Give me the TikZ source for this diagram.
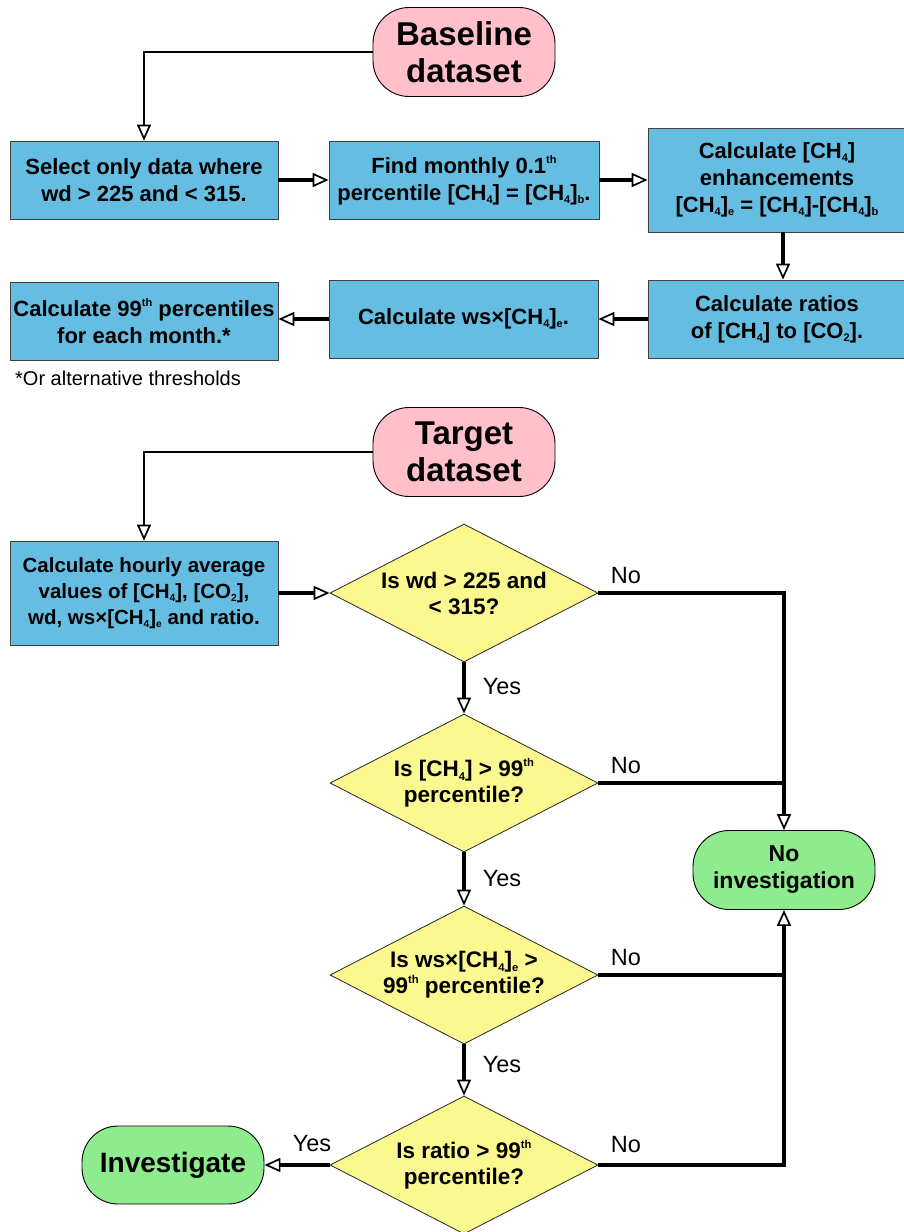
\documentclass[tikz,border=0pt]{standalone}
\usepackage{fontspec}
\setmainfont{Liberation Sans}
\usetikzlibrary{arrows.meta,shapes.geometric}
\definecolor{boxblue}{HTML}{66BDE2}
\definecolor{diayel}{HTML}{FBF88F}
\definecolor{pillpink}{HTML}{FFC0CB}
\definecolor{pillgreen}{HTML}{8EEB8E}
\newcommand\dsub[1]{\raisebox{-0.28ex}{\scalebox{0.5}{#1}}}
\newcommand\CHf{[CH\dsub{4}]}
\newcommand\thsup{\raisebox{0.85ex}{\scalebox{0.5}{th}}}
\tikzset{
  procbox/.style={draw=black!75, line width=0.8pt, fill=boxblue, inner sep=0pt,
    font=\bfseries\fontsize{22}{27}\selectfont, align=center},
  decis/.style={diamond, draw=black!85, line width=0.8pt, fill=diayel, inner sep=0pt,
    minimum width=268pt, minimum height=138pt},
  dtext/.style={font=\bfseries\fontsize{22.5}{26}\selectfont, align=center, inner sep=0pt},
  pill/.style={draw=black, line width=0.9pt, rounded corners=36pt, inner sep=0pt, align=center},
  tipstyle/.style={-{Triangle[fill=white, length=16pt, width=14pt, line width=1.7pt]}},
  conn/.style={line width=3.3pt, tipstyle},
  thinconn/.style={line width=2.6pt, tipstyle},
  plainline/.style={line width=3.3pt},
  lbl/.style={font=\fontsize{20}{24}\selectfont, inner sep=0pt},
  yn/.style={font=\fontsize{23.5}{26}\selectfont, inner sep=0pt}
}
\begin{document}
\begin{tikzpicture}[x=1pt,y=-1pt]
\useasboundingbox (0,0) rectangle (904,1232);
\fill[white] (0,0) rectangle (904,1232);
% baseline part
\node[pill, fill=pillpink, minimum width=182pt, minimum height=89pt,
  font=\bfseries\fontsize{33}{37}\selectfont] (base) at (464,52) {Baseline\\dataset};
\node[procbox, minimum width=268pt, minimum height=78pt] (b1) at (144,180)
  {Select only data where\\wd > 225 and < 315.};
\node[procbox, minimum width=270pt, minimum height=78pt] (b2) at (464,180)
  {Find monthly 0.1\thsup\\percentile \CHf{} = \CHf\dsub{b}.};
\node[procbox, minimum width=258pt, minimum height=104pt] (b3) at (777,180)
  {Calculate \CHf\\enhancements\\\CHf\dsub{e} = \CHf-\CHf\dsub{b}};
\node[procbox, minimum width=258pt, minimum height=78pt] (b4) at (777,319)
  {Calculate ratios\\of \CHf{} to [CO\dsub{2}].};
\node[procbox, minimum width=269pt, minimum height=78pt] (b5) at (463.5,319)
  {Calculate ws\texttimes\CHf\dsub{e}.};
\node[procbox, minimum width=268pt, minimum height=78pt] (b6) at (144,321)
  {Calculate 99\thsup{} percentiles\\for each month.*};
\node[lbl, anchor=west] (note) at (15,378) {*Or alternative thresholds};
\draw[thinconn] (base.west) -| (b1.north);
\draw[conn] (b1.east) -- (b2.west);
\draw[conn] (b2.east) -- (b2.east -| b3.west);
\draw[conn] (b3.south -| 783,0) -- (b4.north -| 783,0);
\draw[conn] (b4.west) -- (b5.east);
\draw[conn] (b5.east -| b5.west) -- (b6.east |- b5.west);
% target part
\node[pill, fill=pillpink, minimum width=182pt, minimum height=89pt,
  font=\bfseries\fontsize{33}{37}\selectfont] (targ) at (464,452) {Target\\dataset};
\node[procbox, minimum width=268pt, minimum height=104pt,
  font=\bfseries\fontsize{20.5}{26}\selectfont] (b7) at (144,593)
  {Calculate hourly average\\values of \CHf, [CO\dsub{2}],\\wd, ws\texttimes\CHf\dsub{e} and ratio.};
\node[decis, label={[dtext]center:Is wd > 225 and\\< 315?}] (d1) at (464,593) {};
\node[decis, label={[dtext]center:Is \CHf{} > 99\thsup\\percentile?}] (d2) at (464,783) {};
\node[decis, label={[dtext]center:Is ws\texttimes\CHf\dsub{e} >\\99\thsup{} percentile?}] (d3) at (464,975) {};
\node[decis, label={[dtext]center:Is ratio > 99\thsup\\percentile?}] (d4) at (464,1165) {};
\node[pill, fill=pillgreen, minimum width=182pt, minimum height=79pt,
  font=\bfseries\fontsize{23}{27}\selectfont] (noinv) at (784,870) {No\\investigation};
\node[pill, fill=pillgreen, minimum width=182pt, minimum height=78pt,
  font=\bfseries\fontsize{28}{32}\selectfont] (inv) at (173,1165) {Investigate};
\draw[thinconn] (targ.west) -| (b7.north);
\draw[conn] (b7.east |- d1.west) -- (d1.west);
\draw[conn] (d1.south) -- (d2.north);
\draw[conn] (d2.south) -- (d3.north);
\draw[conn] (d3.south) -- (d4.north);
\draw[conn] (d4.west) -- (inv.east);
\draw[conn] (d1.east) -| (noinv.north);
\draw[plainline] (d2.east) -- (d2.east -| noinv.north);
\draw[conn] (d4.east) -| (noinv.south);
\draw[plainline] (d3.east) -- (d3.east -| noinv.south);
% labels
\node[yn] (no1) at (626,576) {No};
\node[yn] (no2) at (626,766) {No};
\node[yn] (no3) at (626,958) {No};
\node[yn] (no4) at (626,1145) {No};
\node[yn] (yes1) at (502,687) {Yes};
\node[yn] (yes2) at (502,879) {Yes};
\node[yn] (yes3) at (502,1065) {Yes};
\node[yn] (yes4) at (312,1144) {Yes};
\end{tikzpicture}
\end{document}
